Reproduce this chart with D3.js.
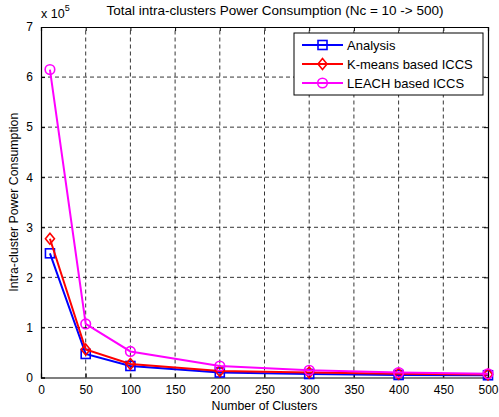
<!DOCTYPE html>
<html>
<head>
<meta charset="utf-8">
<script src="https://cdn.jsdelivr.net/npm/d3@7"></script>
<style>
  body { margin: 0; background: #fff; }
  svg { font-family: "Liberation Sans", Arial, sans-serif; }
</style>
</head>
<body>
<svg width="499" height="417"></svg>
<script>
const clusters = [10, 50, 100, 200, 300, 400, 500];
const analysis = [2.48, 0.47, 0.23, 0.10, 0.07, 0.05, 0.045];
const kmeans = [2.77, 0.56, 0.27, 0.13, 0.10, 0.075, 0.058];
const leach = [6.15, 1.07, 0.52, 0.23, 0.145, 0.10, 0.075];
const xTicks = [0, 50, 100, 150, 200, 250, 300, 350, 400, 450, 500];
const yTicks = [0, 1, 2, 3, 4, 5, 6, 7];

const series = [
  { name: 'Analysis', values: analysis, color: '#0000ff', marker: 'square' },
  { name: 'K-means based ICCS', values: kmeans, color: '#ff0000', marker: 'diamond' },
  { name: 'LEACH based ICCS', values: leach, color: '#ff00ff', marker: 'circle' }
];

(function(d3) {
  'use strict';

  const svg = d3.select('svg');
  const margin = { top: 27, right: 11, bottom: 39.5, left: 41 };
  const width = +svg.attr('width');
  const height = +svg.attr('height');

  const x = d3.scaleLinear().domain([0, 500]).range([margin.left, width - margin.right]);
  const y = d3.scaleLinear().domain([0, 7]).range([height - margin.bottom, margin.top]);

  // grid
  const grid = svg.append('g').attr('class', 'grid')
      .attr('stroke', '#000').attr('stroke-width', 0.8).attr('stroke-dasharray', '4,3');
  grid.selectAll('.vg').data(xTicks.slice(1, -1)).enter().append('line')
      .attr('x1', d => x(d)).attr('x2', d => x(d))
      .attr('y1', y(0)).attr('y2', y(7));
  grid.selectAll('.hg').data(yTicks.slice(1, -1)).enter().append('line')
      .attr('x1', x(0)).attr('x2', x(500))
      .attr('y1', d => y(d)).attr('y2', d => y(d));

  // axes
  const xAxis = svg.append('g')
      .attr('transform', `translate(0,${y(0)})`)
      .call(d3.axisBottom(x).tickValues(xTicks).tickSize(-4).tickPadding(8));
  const xTop = svg.append('g')
      .attr('transform', `translate(0,${y(7)})`)
      .call(d3.axisTop(x).tickValues(xTicks).tickSize(-4).tickFormat(''));
  const yAxis = svg.append('g')
      .attr('transform', `translate(${x(0)},0)`)
      .call(d3.axisLeft(y).tickValues(yTicks).tickSize(-4).tickPadding(8).tickFormat(d3.format('d')));
  const yRight = svg.append('g')
      .attr('transform', `translate(${x(500)},0)`)
      .call(d3.axisRight(y).tickValues(yTicks).tickSize(-4).tickFormat(''));

  [xAxis, xTop, yAxis, yRight].forEach(a => {
    a.select('.domain').attr('stroke', '#000').attr('stroke-width', 1.2);
    a.selectAll('.tick line').attr('stroke', '#000');
    a.selectAll('.tick text').attr('font-size', 12).attr('fill', '#000')
        .attr('font-family', '"Liberation Sans", Arial, sans-serif');
  });

  // lines
  const line = d3.line().x(d => x(d[0])).y(d => y(d[1]));
  const marker = (g, type, color, cx, cy) => {
    if (type === 'square') {
      g.append('rect').attr('x', cx - 4.5).attr('y', cy - 4.5).attr('width', 9).attr('height', 9)
          .attr('fill', 'none').attr('stroke', color).attr('stroke-width', 1.6);
    } else if (type === 'diamond') {
      g.append('path').attr('d', `M${cx},${cy - 5.5}L${cx + 4.5},${cy}L${cx},${cy + 5.5}L${cx - 4.5},${cy}Z`)
          .attr('fill', 'none').attr('stroke', color).attr('stroke-width', 1.6);
    } else {
      g.append('circle').attr('cx', cx).attr('cy', cy).attr('r', 4.8)
          .attr('fill', 'none').attr('stroke', color).attr('stroke-width', 1.6);
    }
  };

  series.forEach(s => {
    const pts = clusters.map((c, i) => [c, s.values[i]]);
    svg.append('path')
        .attr('d', line(pts))
        .attr('fill', 'none')
        .attr('stroke', s.color)
        .attr('stroke-width', 2);
    const g = svg.append('g');
    pts.forEach(p => marker(g, s.marker, s.color, x(p[0]), y(p[1])));
  });

  // legend
  const legend = svg.append('g').attr('transform', 'translate(294,33)');
  legend.append('rect').attr('width', 189).attr('height', 62)
      .attr('fill', '#fff').attr('stroke', '#000').attr('stroke-width', 1);
  series.forEach((s, i) => {
    const ly = 12 + i * 19;
    legend.append('line').attr('x1', 8).attr('x2', 49).attr('y1', ly).attr('y2', ly)
        .attr('stroke', s.color).attr('stroke-width', 2);
    marker(legend, s.marker, s.color, 28.5, ly);
    legend.append('text').attr('x', 53).attr('y', ly + 4.5)
        .attr('font-size', 13).text(s.name);
  });

  // titles
  svg.append('text').attr('x', 275).attr('y', 15).attr('text-anchor', 'middle')
      .attr('font-size', 13.5).text('Total intra-clusters Power Consumption (Nc = 10 -> 500)');
  const sci = svg.append('text').attr('x', 41).attr('y', 18).attr('font-size', 12.5);
  sci.append('tspan').text('x 10');
  sci.append('tspan').attr('font-size', 9).attr('dy', -7).text('5');
  svg.append('text').attr('x', (x(0) + x(500)) / 2).attr('y', 410).attr('text-anchor', 'middle')
      .attr('font-size', 12.3).text('Number of Clusters');
  svg.append('text').attr('transform', `translate(18,${(y(0) + y(7)) / 2}) rotate(-90)`)
      .attr('text-anchor', 'middle').attr('font-size', 12.3).text('Intra-cluster Power Consumption');
}(d3));
</script>
</body>
</html>
